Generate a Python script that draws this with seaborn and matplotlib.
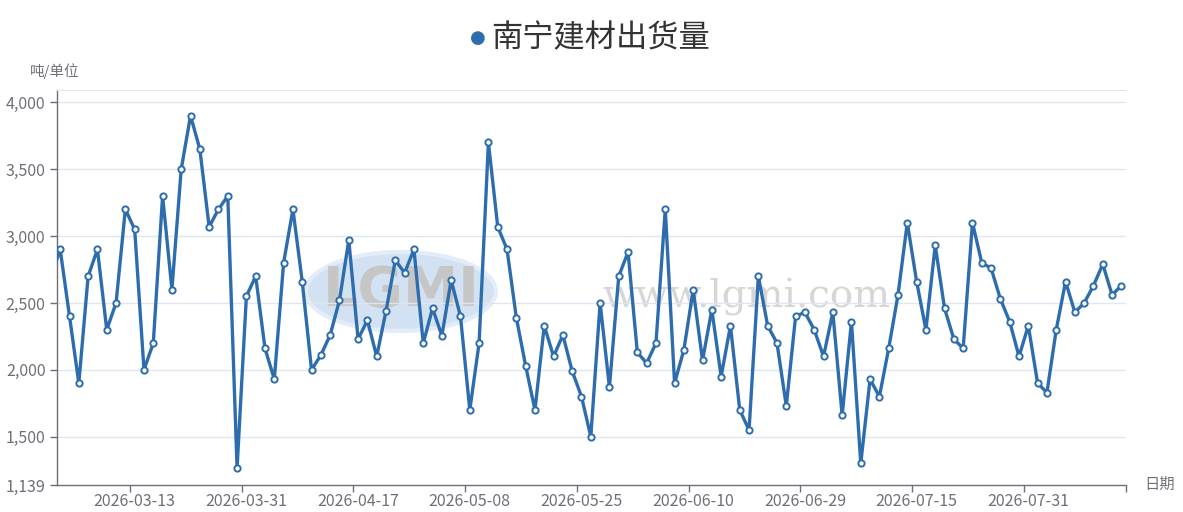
import numpy as np
import pandas as pd
import matplotlib
matplotlib.use('Agg')
import matplotlib.pyplot as plt
from matplotlib.patches import Ellipse
import seaborn as sns

sns.set_style('white')
plt.rcParams['font.family'] = ['Noto Sans CJK SC', 'DejaVu Sans']

title = '南宁建材出货量'
y_unit = '吨/单位'
x_name = '日期'

# shipments, one value per trading day in the visible window
shipments = [2700, 2900, 2400, 1900, 2700, 2900, 2300, 2500, 3200, 3050,
             2000, 2200, 3300, 2600, 3500, 3900, 3650, 3070, 3200, 3300,
             1265, 2550, 2700, 2160, 1930, 2800, 3200, 2660, 2000, 2110,
             2260, 2520, 2970, 2230, 2370, 2100, 2440, 2820, 2725, 2900,
             2200, 2460, 2255, 2670, 2400, 1700, 2200, 3700, 3070, 2900,
             2390, 2030, 1700, 2330, 2100, 2260, 1990, 1800, 1500, 2500,
             1870, 2700, 2880, 2130, 2050, 2200, 3200, 1900, 2150, 2600,
             2070, 2450, 1950, 2330, 1700, 1550, 2700, 2330, 2200, 1730,
             2400, 2430, 2300, 2100, 2430, 1660, 2360, 1300, 1930, 1800,
             2160, 2560, 3100, 2660, 2300, 2930, 2460, 2230, 2160, 3100,
             2800, 2760, 2530, 2360, 2100, 2330, 1900, 1830, 2300, 2660,
             2430, 2500, 2630, 2790, 2560, 2630]

date_labels = ['2026-03-13', '2026-03-31', '2026-04-17', '2026-05-08', '2026-05-25',
               '2026-06-10', '2026-06-29', '2026-07-15', '2026-07-31']
label_pos = [9, 21, 33, 45, 57, 69, 81, 93, 105]

y_ticks = [1139, 1500, 2000, 2500, 3000, 3500, 4000]

df = pd.DataFrame({'idx': np.arange(len(shipments)), 'value': shipments})

blue = '#2e6dad'
grey = '#6e7079'
grid_c = '#e0e6f1'

fig = plt.figure(figsize=(11.83, 5.12), dpi=100)
ax = fig.add_axes([0.0479, 0.0527, 0.9035, 0.7715])

# watermark
ax.add_patch(Ellipse((0.322, 0.49), 0.178, 0.2, transform=ax.transAxes,
                     facecolor='#d3e2f2', edgecolor='#e3ecf7', lw=3, zorder=0))
ax.text(0.322, 0.49, 'LGMI', transform=ax.transAxes, ha='center', va='center',
        fontsize=40, color='#c6c6c6', family='DejaVu Sans', fontweight='bold', zorder=0)
ax.text(0.645, 0.475, 'www.lgmi.com', transform=ax.transAxes, ha='center', va='center',
        fontsize=28, color='#d6d6d6', family='DejaVu Serif', zorder=0)

sns.lineplot(data=df, x='idx', y='value', ax=ax, color=blue, linewidth=2.4,
             marker='o', markersize=4.5, markerfacecolor='white',
             markeredgecolor=blue, markeredgewidth=1.4, zorder=3)

ax.set_xlim(0.62, 115.44)
ax.set_ylim(1139, 4092)

ax.set_yticks(y_ticks)
ax.set_yticklabels([f'{v:,}' for v in y_ticks])
for v in y_ticks[1:]:
    ax.axhline(v, color=grid_c, lw=1, zorder=1)

ax.set_xticks(label_pos)
ax.set_xticklabels(date_labels)
ax.set_xticks([p - 0.5 for p in label_pos] + [115.44], minor=True)
ax.tick_params(axis='x', which='major', bottom=True, length=0, pad=6,
               colors=grey, labelsize=11.5)
ax.tick_params(axis='x', which='minor', bottom=True, length=5, width=1,
               color=grey, direction='out')
ax.tick_params(axis='y', left=True, length=5, width=1, color=grey, direction='out',
               pad=3, colors=grey, labelsize=11.5)

for s in ['left', 'bottom']:
    ax.spines[s].set_color(grey)
    ax.spines[s].set_linewidth(1)
ax.spines['right'].set_visible(False)
ax.spines['top'].set_color(grid_c)
ax.set_xlabel('')
ax.set_ylabel('')

fig.text(0.046, 0.861, y_unit, ha='center', va='center', fontsize=10.5, color=grey)
fig.text(0.9805, 0.054, x_name, ha='center', va='center', fontsize=11, color=grey)

fig.text(0.404, 0.926, '●', ha='center', va='center', fontsize=13, color=blue,
         family='DejaVu Sans')
fig.text(0.415, 0.926, title, ha='left', va='center', fontsize=22.5, color='#333333')

fig.savefig('out.png', dpi=100)
